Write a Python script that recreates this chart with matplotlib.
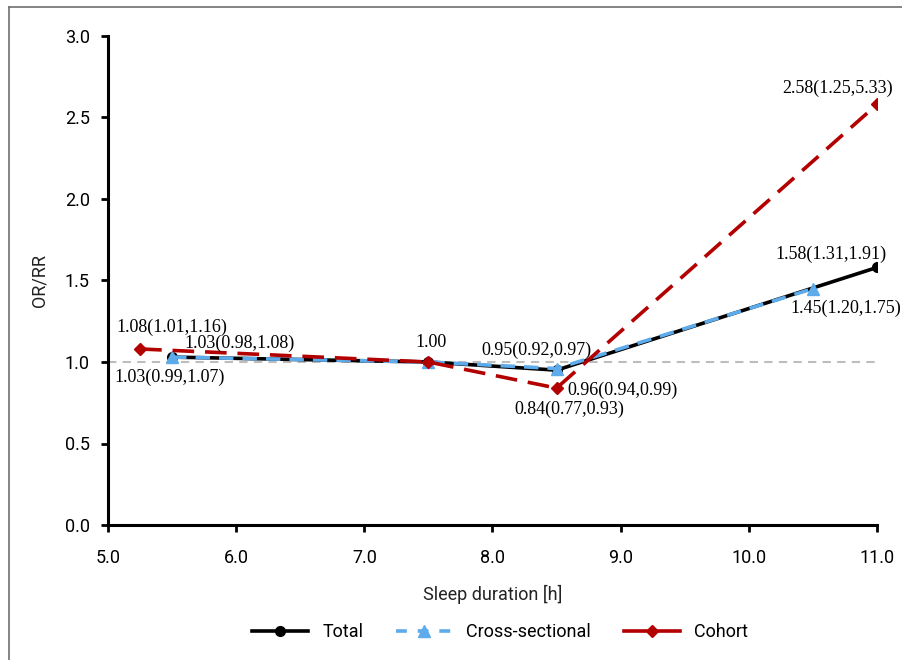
import matplotlib.pyplot as plt
from matplotlib.lines import Line2D

plt.rcParams['font.family'] = ['Roboto', 'DejaVu Sans']

# sleep duration [h] and OR/RR values
total_x = [5.5, 7.5, 8.5, 11.0]
total_y = [1.03, 1.00, 0.95, 1.58]
cross_x = [5.5, 7.5, 8.5, 10.5]
cross_y = [1.03, 1.00, 0.96, 1.45]
cohort_x = [5.25, 7.5, 8.5, 11.0]
cohort_y = [1.08, 1.00, 0.84, 2.58]

# point labels: (x, y, text, offset in pixels right/down)
labels = [
    (5.25, 1.08, '1.08(1.01,1.16)', (32, -22)),
    (5.5, 1.03, '1.03(0.98,1.08)', (67, -14)),
    (5.5, 1.03, '1.03(0.99,1.07)', (-2, 20)),
    (7.5, 1.00, '1.00', (3, -19)),
    (8.5, 0.95, '0.95(0.92,0.97)', (-20, -20)),
    (8.5, 0.96, '0.96(0.94,0.99)', (66, 22)),
    (8.5, 0.84, '0.84(0.77,0.93)', (13, 21)),
    (11.0, 2.58, '2.58(1.25,5.33)', (-39, -16)),
    (11.0, 1.58, '1.58(1.31,1.91)', (-46, -13)),
    (10.5, 1.45, '1.45(1.20,1.75)', (33, 20)),
]

BLACK = '#000000'
BLUE = '#5DABEA'
RED = '#B30000'

fig = plt.figure(figsize=(9.03, 6.60), dpi=100)
ax = fig.add_axes([108 / 903, 1 - 525 / 660, 769 / 903, 489 / 660])

ax.axhline(1.0, color='#BDBDBD', lw=1.5, ls=(0, (4, 3)), zorder=1)

ax.plot(total_x, total_y, color=BLACK, lw=2.6, marker='o', ms=7, zorder=2)
ax.plot(cross_x, cross_y, color=BLUE, lw=2.6, ls=(0, (4, 2.5)), marker='^', ms=8, zorder=3)
ax.plot(cohort_x, cohort_y, color=RED, lw=2.6, ls=(0, (6, 3)), marker='D', ms=6, zorder=4)

for x, y, t, (dx, dy) in labels:
    ax.annotate(t, (x, y), xytext=(dx, -dy), textcoords='offset pixels',
                ha='center', va='center', fontsize=13,
                family=['Liberation Serif', 'DejaVu Serif'], zorder=5)

ax.set_xlim(5.0, 11.0)
ax.set_ylim(0.0, 3.0)
ax.set_xticks([5, 6, 7, 8, 9, 10, 11])
ax.set_xticklabels(['5.0', '6.0', '7.0', '8.0', '9.0', '10.0', '11.0'])
ax.set_yticks([0, 0.5, 1.0, 1.5, 2.0, 2.5, 3.0])
ax.set_yticklabels(['0.0', '0.5', '1.0', '1.5', '2.0', '2.5', '3.0'])
ax.tick_params(direction='out', length=5, width=2, labelsize=13, colors='black', pad=8)
ax.tick_params(axis='x', pad=12)
for s in ['top', 'right']:
    ax.spines[s].set_visible(False)
for s in ['left', 'bottom']:
    ax.spines[s].set_linewidth(2.2)

ax.set_xlabel('Sleep duration [h]', fontsize=13, labelpad=13, color='#222222')
ax.set_ylabel('OR/RR', fontsize=13, labelpad=12, color='#222222')

handles = [
    Line2D([], [], color=BLACK, lw=2.6, marker='o', ms=7),
    Line2D([], [], color=BLUE, lw=2.6, ls=(0, (3, 3)), marker='^', ms=8),
    Line2D([], [], color=RED, lw=2.6, marker='D', ms=6),
]
fig.legend(handles, ['Total', 'Cross-sectional', 'Cohort'], loc='center',
           bbox_to_anchor=(500 / 903, 1 - 632 / 660), ncol=3, frameon=False,
           fontsize=13, handlelength=3.1, columnspacing=1.8, handletextpad=0.8)

# cropped frame around the figure
fig.add_artist(Line2D([9 / 903, 9 / 903], [0, 1 - 7 / 660], color='#707070', lw=1.2))
fig.add_artist(Line2D([9 / 903, 1], [1 - 7 / 660, 1 - 7 / 660], color='#707070', lw=1.2))

fig.savefig('out.png', dpi=100)
